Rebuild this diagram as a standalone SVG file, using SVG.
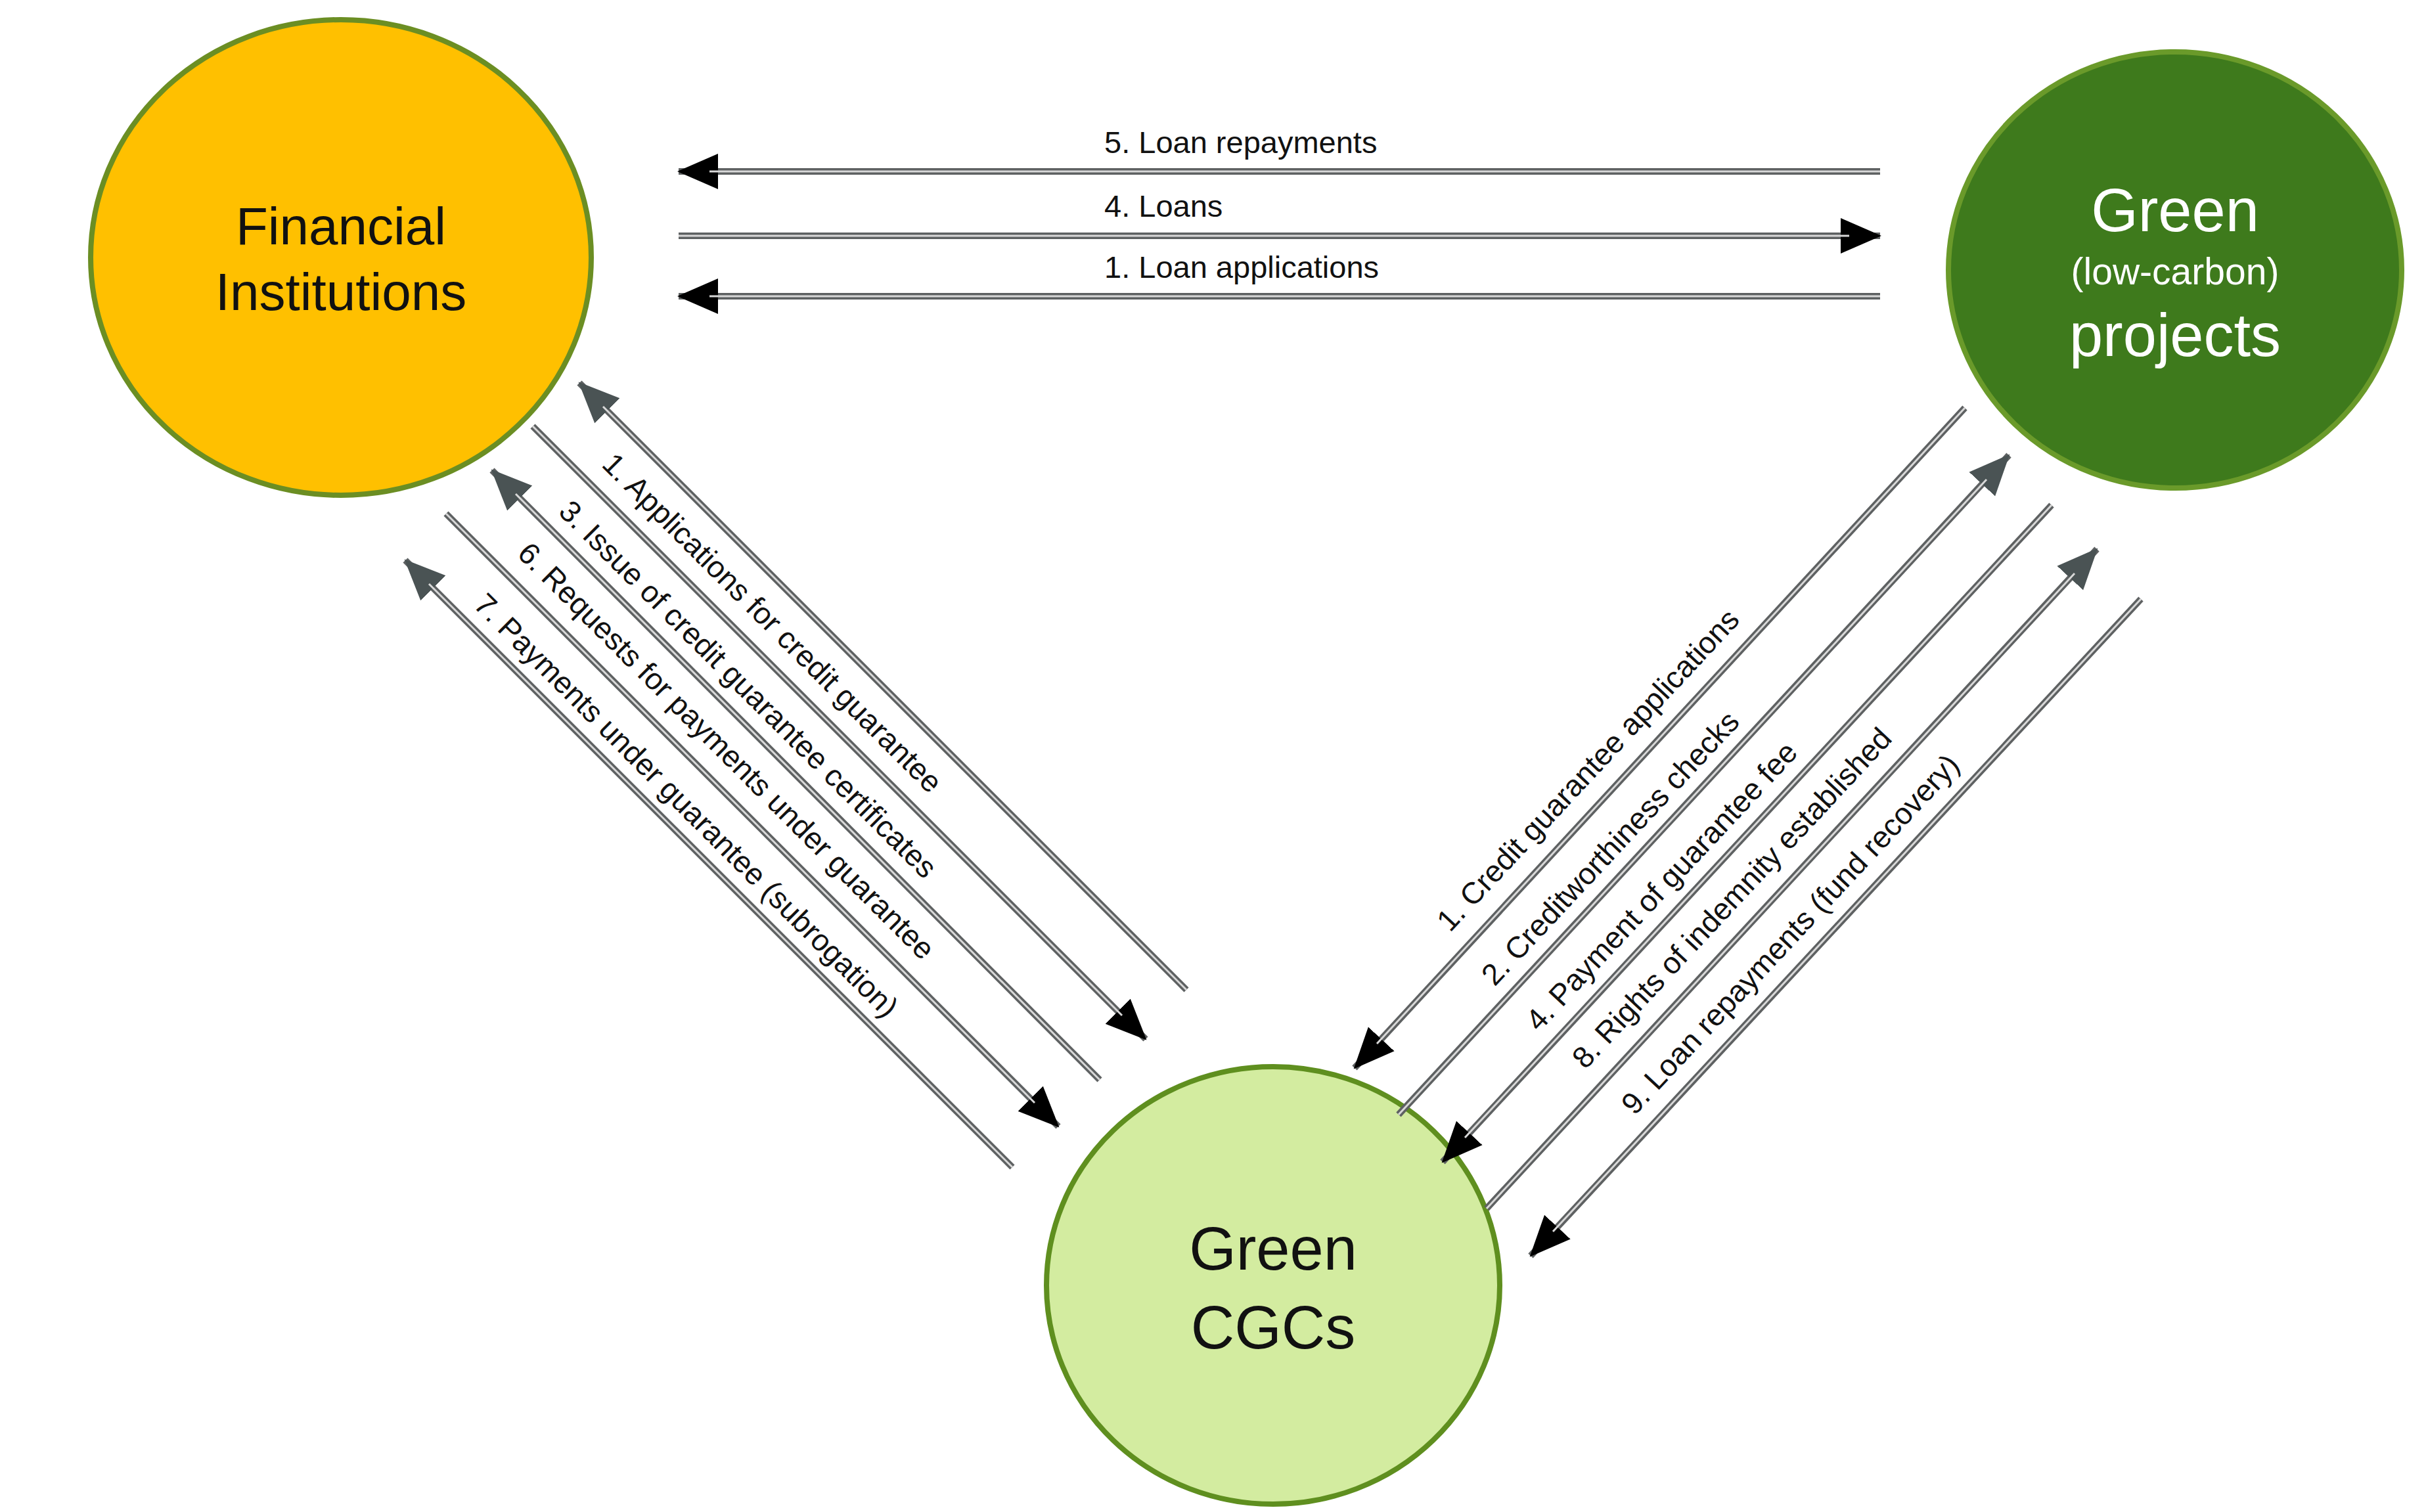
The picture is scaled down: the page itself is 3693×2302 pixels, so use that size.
<svg xmlns="http://www.w3.org/2000/svg" width="3693" height="2302" viewBox="0 0 3693 2302">
<style>
text{font-family:"Liberation Sans",Arial,sans-serif}
.o{stroke:#5e6162;stroke-width:10;fill:none}
.i{stroke:#d8d8d8;stroke-width:3;fill:none}
.lb{font-size:46px;fill:#111;text-anchor:middle;dominant-baseline:central}
.hl{font-size:47px;fill:#111}
</style>
<defs>
<marker id="hb" markerUnits="userSpaceOnUse" markerWidth="70" markerHeight="60" viewBox="0 -30 70 60" refX="60" refY="0" orient="auto"><path d="M0,-27L62,0L0,27Z" fill="#000"/></marker>
<marker id="hg" markerUnits="userSpaceOnUse" markerWidth="70" markerHeight="60" viewBox="0 -30 70 60" refX="60" refY="0" orient="auto"><path d="M0,-27L62,0L0,27Z" fill="#4a5354"/></marker>
</defs>
<rect width="3693" height="2302" fill="#fff"/>
<g id="fi">
<ellipse cx="519" cy="392" rx="381" ry="362" fill="#FFC000" stroke="#6b8e23" stroke-width="8"/>
<text x="519" y="372" font-size="80" text-anchor="middle" fill="#111">Financial</text>
<text x="519" y="472" font-size="80" text-anchor="middle" fill="#111">Institutions</text>
</g>
<g id="gp">
<ellipse cx="3311" cy="411" rx="345" ry="332" fill="#3e7a1c" stroke="#6a9a2a" stroke-width="8"/>
<text x="3311" y="352" font-size="92" text-anchor="middle" fill="#fff">Green</text>
<text x="3311" y="433" font-size="57" text-anchor="middle" fill="#fff">(low-carbon)</text>
<text x="3311" y="542" font-size="92" text-anchor="middle" fill="#fff">projects</text>
</g>
<g id="cgc">
<ellipse cx="1938" cy="1957" rx="345" ry="333" fill="#d3eca0" stroke="#5f8f1f" stroke-width="8"/>
<text x="1938" y="1933" font-size="92" text-anchor="middle" fill="#111">Green</text>
<text x="1938" y="2053" font-size="92" text-anchor="middle" fill="#111">CGCs</text>
</g>
<g id="connectors">
<path class="o" d="M2862,261L1033,261" marker-end="url(#hb)"/><path class="i" d="M2862,261L1080,261"/>
<path class="o" d="M1033,359L2862,359" marker-end="url(#hb)"/><path class="i" d="M1033,359L2815,359"/>
<path class="o" d="M2862,451L1033,451" marker-end="url(#hb)"/><path class="i" d="M2862,451L1080,451"/>
<path class="o" d="M1806,1507L882,583" marker-end="url(#hg)"/><path class="i" d="M1806,1507L918,619"/>
<path class="o" d="M811,649L1744,1582" marker-end="url(#hb)"/><path class="i" d="M811,649L1708,1546"/>
<path class="o" d="M1674,1644L749,716" marker-end="url(#hg)"/><path class="i" d="M1674,1644L785,752"/>
<path class="o" d="M679,782L1611,1715" marker-end="url(#hb)"/><path class="i" d="M679,782L1575,1679"/>
<path class="o" d="M1541,1777L617,853" marker-end="url(#hg)"/><path class="i" d="M1541,1777L653,889"/>
<path class="o" d="M2991,621L2062,1626" marker-end="url(#hb)"/><path class="i" d="M2991,621L2096,1589"/>
<path class="o" d="M2129,1697L3058,693" marker-end="url(#hg)"/><path class="i" d="M2129,1697L3024,730"/>
<path class="o" d="M3123,769L2196,1769" marker-end="url(#hb)"/><path class="i" d="M3123,769L2230,1732"/>
<path class="o" d="M2263,1840L3192,836" marker-end="url(#hg)"/><path class="i" d="M2263,1840L3158,873"/>
<path class="o" d="M3259,912L2330,1912" marker-end="url(#hb)"/><path class="i" d="M3259,912L2364,1875"/>
</g>
<g id="labels">
<text class="hl" x="1681" y="233">5. Loan repayments</text>
<text class="hl" x="1681" y="330">4. Loans</text>
<text class="hl" x="1681" y="423">1. Loan applications</text>
<text class="lb" transform="translate(1176,948) rotate(45)">1. Applications for credit guarantee</text>
<text class="lb" transform="translate(1139,1049) rotate(45)">3. Issue of credit guarantee certificates</text>
<text class="lb" transform="translate(1106,1143) rotate(45)">6. Requests for payments under guarantee</text>
<text class="lb" transform="translate(1045,1226) rotate(45)">7. Payments under guarantee (subrogation)</text>
<text class="lb" transform="translate(2417,1172) rotate(-47)">1. Credit guarantee applications</text>
<text class="lb" transform="translate(2451,1291) rotate(-47)">2. Creditworthiness checks</text>
<text class="lb" transform="translate(2529,1349) rotate(-47)">4. Payment of guarantee fee</text>
<text class="lb" transform="translate(2636,1367) rotate(-47)">8. Rights of indemnity established</text>
<text class="lb" transform="translate(2725,1422) rotate(-47)">9. Loan repayments (fund recovery)</text>
</g>
</svg>
